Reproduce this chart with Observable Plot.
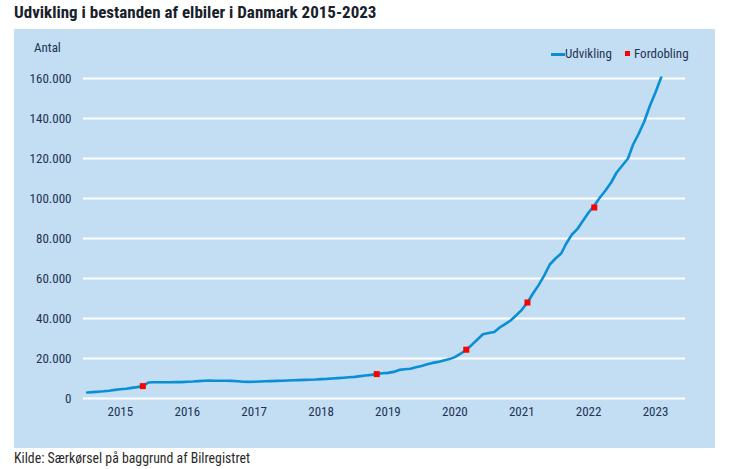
<!DOCTYPE html>
<html><head><meta charset="utf-8">
<script src="https://cdn.jsdelivr.net/npm/d3@7"></script>
<script src="https://cdn.jsdelivr.net/npm/@observablehq/plot@0.6"></script>
<style>
body{margin:0;background:#fff;}
#wrap{position:relative;width:730px;height:469px;font-family:"Liberation Sans Narrow","Roboto Condensed","DejaVu Sans Condensed",sans-serif;color:#1e3355;}
#title{position:absolute;left:14px;top:2px;font-size:17px;font-weight:bold;color:#17212b;white-space:nowrap;}
#panel{position:absolute;left:14px;top:29px;width:701px;height:419px;background:#c3ddf2;}
#panel svg{position:absolute;left:0;top:0;}
#antal{position:absolute;left:20px;top:11px;font-size:13px;}
.leg{position:absolute;font-size:13px;white-space:nowrap;}
#caption{position:absolute;left:14px;top:450px;font-size:13.8px;color:#2a2a2a;white-space:nowrap;}
</style></head>
<body>
<div id="wrap">
  <div id="title">Udvikling i bestanden af elbiler i Danmark 2015-2023</div>
  <div id="panel">
    <div id="antal">Antal</div>
    <div class="leg" style="left:537px;top:24px;width:14px;height:3px;background:#0a8fd6"></div>
    <div class="leg" style="left:551px;top:17px;">Udvikling</div>
    <div class="leg" style="left:611px;top:22px;width:5px;height:5px;background:#ff0000"></div>
    <div class="leg" style="left:620px;top:17px;">Fordobling</div>
  </div>
  <div id="caption">Kilde: Særkørsel på baggrund af Bilregistret</div>
</div>
<script>
// Monthly stock of electric cars, starting January 2015
const startMonth = "2015-01-01";
const stock = [
  3000,3200,3400,3600,3900,4300,4600,4900,5300,5700,6200,8000,
  8100,8100,8100,8100,8200,8200,8400,8500,8700,8900,9000,8900,
  8900,8900,8800,8600,8400,8300,8400,8500,8600,8700,8800,8900,
  9000,9100,9200,9300,9400,9500,9700,9800,10000,10200,10400,10600,
  10800,11200,11500,11800,12200,12600,12800,13300,14300,14600,14900,15600,
  16300,17100,17800,18300,19000,19700,20700,22400,24400,26800,29500,32100,
  32700,33300,35400,37200,39000,41600,44300,48000,52600,56700,61600,67000,
  70000,72500,77500,82000,84800,89000,93000,96500,100500,104000,108000,113000,
  116500,120000,127000,132500,138500,146500,153000,160500
];
// Doubling points (Fordobling)
const doubleDates = ["2015-11-01","2019-05-01","2020-09-01","2021-08-01","2022-08-01"];
const doubleValues = [6200,12200,24400,48000,95500];
// Axis ticks
const yTicks = [0,20000,40000,60000,80000,100000,120000,140000,160000];
const yearLabels = [2015,2016,2017,2018,2019,2020,2021,2022,2023];

const start = new Date(startMonth);
const series = stock.map((v,i)=>({date:d3.utcMonth.offset(start,i), value:v}));
const doubles = doubleDates.map((d,i)=>({date:new Date(d), value:doubleValues[i]}));
const xTicks = yearLabels.map(y=>new Date(Date.UTC(y,6,1)));
const fmt = d3.formatLocale({decimal:",",thousands:".",grouping:[3],currency:["",""]}).format(",d");

const chart = Plot.plot({
  width:701, height:419,
  marginLeft:69, marginRight:30, marginTop:49, marginBottom:50,
  style:{background:"transparent", fontFamily:'"Liberation Sans Narrow","Roboto Condensed","DejaVu Sans Condensed",sans-serif', fontSize:"13px", color:"#1e3355"},
  x:{type:"utc", domain:[new Date("2014-12-12"), new Date("2023-12-12")], ticks:xTicks, tickFormat:d=>String(d.getUTCFullYear()), tickSize:0, tickPadding:8, label:null},
  y:{domain:[0,160000], ticks:yTicks, tickFormat:fmt, tickSize:0, tickPadding:12, label:null},
  marks:[
    Plot.ruleY(yTicks,{stroke:"white", strokeWidth:2}),
    Plot.line(series,{x:"date", y:"value", stroke:"#0a8fd6", strokeWidth:2.6, curve:"linear"}),
    Plot.dot(doubles,{x:"date", y:"value", symbol:"square", r:3.4, fill:"#ff0000", stroke:"none"})
  ]
});
document.getElementById("panel").prepend(chart);
</script>
</body></html>
